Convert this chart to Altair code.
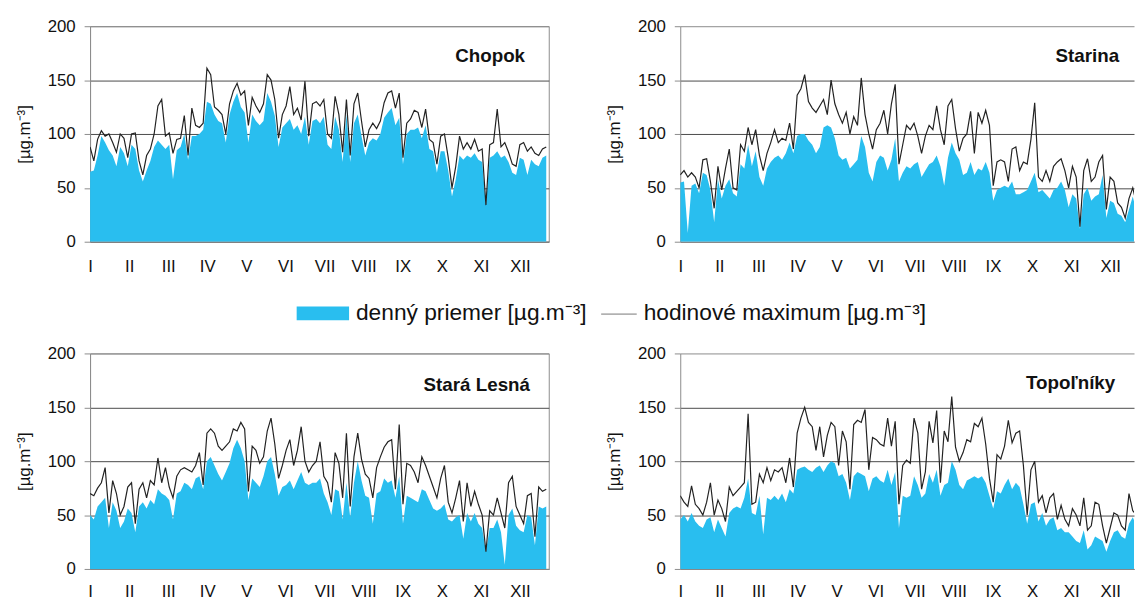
import altair as alt
import pandas as pd

BLUE = "#29BEEF"
FONT = "Liberation Sans"

# sample days (every 3rd day of the year)
days = list(range(0, 364, 3))

month_labels = ["I", "II", "III", "IV", "V", "VI", "VII", "VIII", "IX", "X", "XI", "XII"]
month_pos = [0, 31.1, 62.2, 93.3, 124.4, 155.5, 186.6, 217.7, 248.8, 279.9, 311.0, 342.1]
y_ticks = [0, 50, 100, 150, 200]
unit = "[µg.m⁻³]"

chopok_mean = [65, 66, 80, 98, 92, 85, 80, 70, 88, 82,
               70, 90, 86, 66, 56, 66, 75, 88, 94, 90,
               86, 90, 58, 85, 88, 100, 76, 98, 98, 100,
               104, 130, 128, 118, 112, 110, 92, 118, 130, 138,
               125, 120, 92, 118, 112, 108, 112, 138, 130, 117,
               88, 106, 110, 114, 104, 108, 100, 116, 90, 112,
               114, 110, 116, 90, 86, 116, 104, 74, 118, 74,
               110, 118, 98, 80, 92, 96, 94, 100, 115, 120,
               124, 108, 115, 72, 100, 104, 104, 106, 96, 108,
               86, 84, 64, 84, 84, 66, 42, 58, 80, 76,
               80, 78, 82, 76, 74, 34, 78, 80, 84, 78,
               80, 74, 64, 62, 78, 76, 62, 76, 72, 70,
               78, 80]
chopok_max = [88, 75, 95, 103, 98, 100, 92, 83, 100, 96,
              78, 100, 101, 75, 62, 80, 86, 100, 126, 132,
              98, 101, 82, 95, 96, 117, 80, 124, 108, 106,
              110, 161, 155, 125, 122, 118, 100, 128, 140, 147,
              136, 140, 108, 134, 126, 120, 128, 155, 150, 132,
              96, 118, 126, 144, 118, 124, 113, 149, 98, 128,
              130, 126, 132, 100, 96, 135, 118, 83, 132, 80,
              128, 138, 112, 88, 104, 110, 105, 112, 129, 138,
              140, 124, 138, 78, 110, 114, 122, 120, 106, 123,
              95, 92, 72, 98, 100, 78, 50, 70, 98, 86,
              92, 86, 95, 84, 86, 34, 90, 92, 123, 88,
              92, 83, 72, 70, 90, 92, 84, 88, 82, 80,
              86, 88]

starina_mean = [55, 56, 8, 52, 54, 45, 64, 62, 48, 18,
                58, 40, 52, 58, 45, 42, 72, 68, 90, 70,
                84, 60, 52, 68, 74, 78, 80, 76, 82, 92,
                82, 98, 100, 100, 94, 90, 82, 88, 106, 108,
                106, 96, 80, 76, 78, 68, 72, 76, 98, 88,
                64, 56, 74, 80, 78, 66, 76, 96, 56, 64,
                70, 68, 72, 74, 60, 66, 72, 74, 80, 70,
                52, 78, 92, 82, 76, 62, 64, 74, 62, 68,
                66, 74, 64, 38, 48, 50, 52, 50, 56, 44,
                44, 46, 48, 56, 64, 46, 48, 44, 40, 48,
                50, 56, 48, 32, 44, 40, 12, 44, 50, 38,
                42, 44, 62, 22, 38, 36, 26, 24, 18, 30,
                42, 28]
starina_max = [62, 66, 60, 64, 60, 50, 76, 77, 56, 31,
               70, 48, 68, 86, 50, 48, 90, 84, 106, 90,
               104, 80, 66, 82, 92, 104, 92, 96, 94, 110,
               86, 136, 142, 155, 130, 124, 120, 126, 132, 118,
               150, 128, 118, 110, 120, 100, 116, 108, 152, 118,
               100, 86, 104, 110, 122, 100, 128, 146, 72, 90,
               108, 104, 110, 98, 82, 98, 108, 104, 126, 104,
               90, 126, 132, 105, 84, 96, 100, 121, 82, 120,
               110, 122, 108, 52, 74, 76, 74, 56, 86, 88,
               66, 74, 72, 95, 129, 60, 56, 66, 56, 70,
               74, 77, 66, 50, 70, 60, 14, 66, 77, 56,
               60, 74, 80, 30, 60, 56, 36, 32, 22, 40,
               50, 35]

lesna_mean = [50, 46, 58, 62, 66, 38, 62, 54, 38, 44,
              56, 52, 34, 58, 62, 56, 64, 60, 74, 70,
              68, 64, 46, 70, 72, 80, 78, 74, 84, 86,
              74, 100, 104, 96, 88, 82, 90, 98, 112, 120,
              112, 100, 64, 84, 80, 76, 86, 100, 104, 88,
              68, 76, 78, 82, 74, 82, 90, 80, 78, 80,
              80, 84, 70, 62, 50, 74, 72, 46, 80, 48,
              80, 100, 82, 68, 66, 42, 70, 72, 84, 80,
              82, 66, 86, 42, 68, 66, 64, 62, 74, 72,
              64, 56, 54, 56, 60, 46, 44, 48, 50, 28,
              52, 44, 52, 42, 38, 16, 38, 38, 46, 34,
              4, 50, 56, 40, 36, 34, 50, 48, 22, 58,
              56, 58]
lesna_max = [70, 68, 75, 80, 94, 52, 82, 70, 50, 58,
             76, 80, 42, 74, 80, 66, 82, 78, 103, 80,
             94, 76, 66, 86, 92, 94, 92, 90, 96, 108,
             78, 126, 130, 126, 114, 110, 114, 118, 130, 128,
             136, 130, 72, 114, 110, 98, 104, 128, 140, 116,
             84, 96, 110, 120, 96, 110, 132, 100, 90, 96,
             100, 118, 86, 80, 62, 108, 98, 66, 126, 58,
             104, 126, 102, 88, 84, 66, 94, 104, 113, 118,
             120, 74, 134, 60, 98, 96, 90, 80, 104, 96,
             86, 76, 66, 84, 96, 62, 52, 66, 82, 44,
             80, 58, 72, 60, 50, 16, 54, 50, 66, 52,
             38, 80, 86, 58, 50, 42, 68, 70, 30, 76,
             72, 74]

topol_mean = [46, 50, 44, 52, 44, 40, 38, 46, 48, 34,
              46, 38, 30, 52, 56, 58, 56, 66, 84, 52,
              50, 68, 32, 66, 64, 68, 64, 70, 62, 74,
              70, 92, 94, 95, 92, 90, 94, 96, 90, 96,
              100, 98, 86, 88, 80, 64, 86, 90, 88, 86,
              72, 84, 86, 82, 80, 92, 78, 90, 38, 68,
              66, 68, 86, 78, 66, 70, 88, 80, 92, 68,
              78, 80, 100, 92, 78, 74, 82, 84, 86, 84,
              86, 80, 68, 56, 72, 70, 78, 84, 74, 80,
              76, 60, 42, 60, 62, 44, 52, 40, 46, 48,
              36, 38, 34, 34, 30, 26, 24, 36, 18, 22,
              30, 28, 26, 16, 26, 34, 36, 30, 28, 42,
              48, 40]
topol_max = [68, 62, 58, 77, 60, 56, 50, 62, 80, 50,
             64, 56, 44, 76, 68, 72, 76, 80, 144, 60,
             62, 88, 80, 94, 82, 92, 90, 94, 80, 103,
             76, 126, 140, 150, 136, 132, 110, 132, 104, 124,
             136, 132, 96, 128, 118, 74, 134, 138, 136, 148,
             92, 122, 120, 116, 114, 140, 114, 137, 60, 96,
             101, 98, 140, 126, 74, 90, 137, 117, 147, 80,
             128, 118, 160, 113, 100, 108, 120, 118, 135, 132,
             140, 116, 84, 62, 106, 102, 114, 138, 117, 126,
             128, 96, 50, 92, 100, 62, 68, 52, 66, 70,
             46, 59, 46, 40, 56, 50, 40, 66, 36, 40,
             62, 60, 40, 24, 38, 52, 50, 40, 36, 70,
             54, 50]

label_expr = "['" + "','".join(month_labels) + "'][round(datum.value / 31.1)]"
grid_color = {"condition": {"test": "datum.value === 200", "value": "#8c8c8c"},
              "value": "#4a4a4a"}


def panel(name, mean, mx, title_x, title_y, width, x_max, label_pad, framed):
    df = pd.DataFrame({"day": days, "mean": mean, "max": mx})
    xaxis = alt.Axis(values=month_pos, labelExpr=label_expr, ticks=False, tickSize=0,
                     labelPadding=label_pad, labelFontSize=17, labelColor="#111",
                     labelAngle=0, labelFlush=False, grid=False, title=None,
                     domainColor="#8c8c8c")
    yaxis = alt.Axis(values=y_ticks, title=unit, tickSize=6, tickColor="#8c8c8c",
                     labelPadding=9, labelFontSize=17, labelColor="#111",
                     titleFontSize=17, titleFontWeight="normal", titleColor="#111",
                     titlePadding=14, domainColor="#8c8c8c", gridColor=grid_color,
                     gridWidth=1)
    xs = alt.Scale(domain=[0, x_max], nice=False, zero=False)
    ys = alt.Scale(domain=[0, 200], nice=False)
    area = alt.Chart(df).mark_area(color=BLUE, opacity=1, clip=True).encode(
        x=alt.X("day:Q", scale=xs, axis=xaxis),
        y=alt.Y("mean:Q", scale=ys, axis=yaxis),
    )
    line = alt.Chart(df).mark_line(color="#222", strokeWidth=1.2, clip=True).encode(
        x=alt.X("day:Q", title=None),
        y=alt.Y("max:Q", title=unit),
    )
    txt = alt.Chart(pd.DataFrame({"name": [name]})).mark_text(
        align="right", baseline="middle", fontSize=19, fontWeight="bold", color="#111"
    ).encode(x=alt.value(title_x), y=alt.value(title_y), text="name:N")
    stroke = "#8c8c8c" if framed else "transparent"
    return alt.layer(area, line, txt).properties(
        width=width, height=218, view=alt.ViewBackground(stroke=stroke))


leg = alt.Chart(pd.DataFrame({"k": [0]}))
swatch = leg.mark_rect(color=BLUE).encode(
    x=alt.value(209), x2=alt.value(262), y=alt.value(26.5), y2=alt.value(40.5))
t1 = leg.mark_text(align="left", baseline="middle", fontSize=23, color="#111").encode(
    x=alt.value(269), y=alt.value(33.5), text=alt.value("denný priemer " + unit))
rule = leg.mark_rule(color="#777", strokeWidth=1).encode(
    x=alt.value(517), x2=alt.value(553), y=alt.value(34.2))
t2 = leg.mark_text(align="left", baseline="middle", fontSize=23, color="#111").encode(
    x=alt.value(560), y=alt.value(33.5), text=alt.value("hodinové maximum " + unit))
legend = alt.layer(swatch, t1, rule, t2).properties(
    width=900, height=59, view=alt.ViewBackground(stroke="transparent"))

top = alt.hconcat(
    panel("Chopok", chopok_mean, chopok_max, 440, 29.8, 464, 365, 17, True),
    panel("Starina", starina_mean, starina_max, 444, 29.8, 459, 361, 17, False),
    spacing=56,
)
bottom = alt.hconcat(
    panel("Stará Lesná", lesna_mean, lesna_max, 445, 32, 464, 365, 15, True),
    panel("Topoľníky", topol_mean, topol_max, 440, 30, 459, 361, 15, False),
    spacing=56,
)

chart = alt.vconcat(top, legend, bottom, spacing=4).properties(
    padding={"left": 7, "top": 5, "right": 0, "bottom": -3}
).configure(font=FONT).configure_axis(labelFont=FONT, titleFont=FONT).configure_view(
    stroke="#8c8c8c")

chart.save("out.html", embed_options={"renderer": "svg", "actions": False})
